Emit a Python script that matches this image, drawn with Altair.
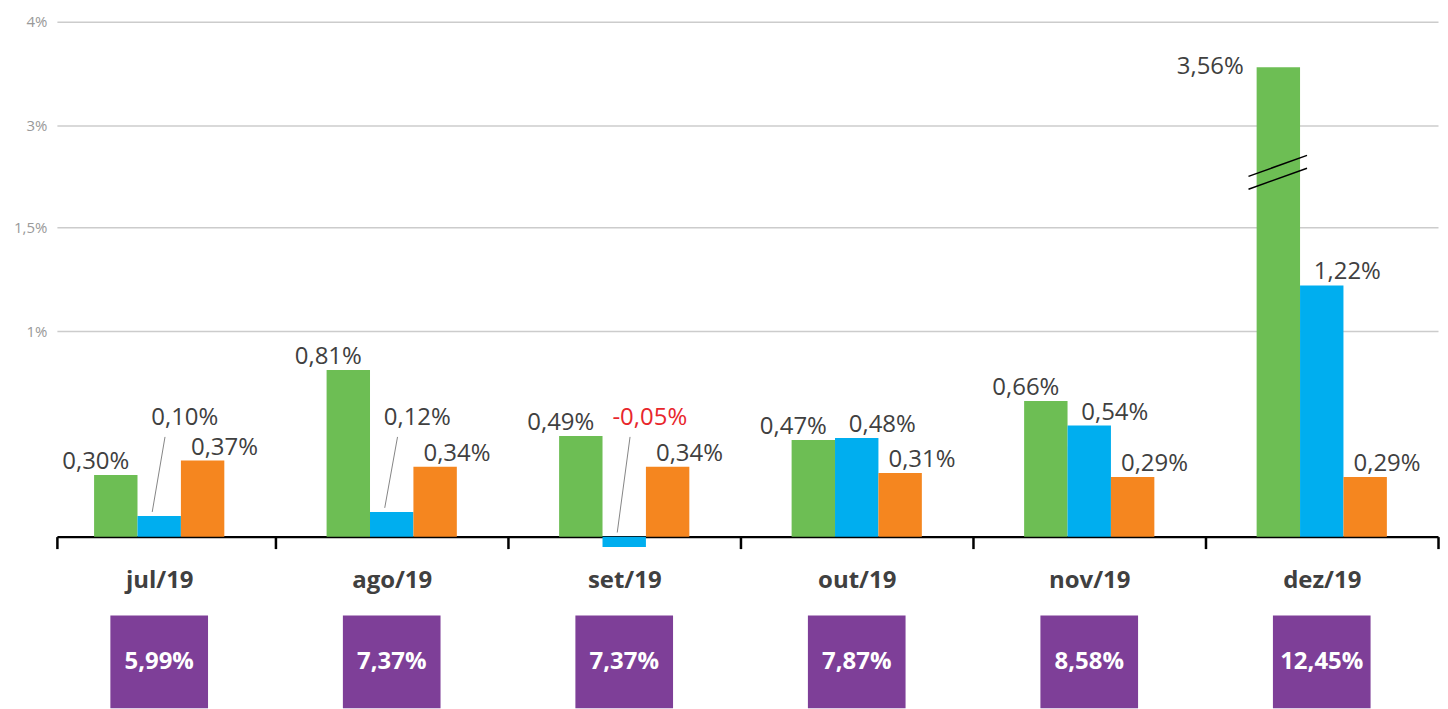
import altair as alt
import pandas as pd

months = ["jul/19", "ago/19", "set/19", "out/19", "nov/19", "dez/19"]
series_names = ["Série 1", "Série 2", "Série 3"]
green_vals = [0.30, 0.81, 0.49, 0.47, 0.66, 3.56]
blue_vals = [0.10, 0.12, -0.05, 0.48, 0.54, 1.22]
orange_vals = [0.37, 0.34, 0.34, 0.31, 0.29, 0.29]
totals = [5.99, 7.37, 7.37, 7.87, 8.58, 12.45]
y_ticks = [1, 1.5, 3, 4]
series_colors = ["#6dbe54", "#00aeef", "#f5861f"]


def fmt(v):
    return f"{v:.2f}".replace(".", ",") + "%"


rows = []
for si, vals in enumerate([green_vals, blue_vals, orange_vals]):
    for mi, v in enumerate(vals):
        rows.append({"mi": mi, "month": months[mi], "series": series_names[si],
                     "si": si, "value": v, "label": fmt(v)})
df = pd.DataFrame(rows)
tot_df = pd.DataFrame({"mi": list(range(len(months))), "month": months,
                       "total": totals, "label": [fmt(t) for t in totals]})

BW = 0.1867
XS = alt.Scale(domain=[-0.44, 5.5], nice=False, zero=False)
YS = alt.Scale(domain=[0, 1, 1.5, 3, 4], range=[516, 310, 206, 104, 0],
               nice=False, zero=False)

month_js = "[" + ",".join(f"'{m}'" for m in months) + "]"
x_vals = [-0.44] + [v / 2 for v in range(0, 12)]
X_AXIS = alt.Axis(
    values=x_vals,
    labelExpr=f"datum.value % 1 === 0 ? {month_js}[datum.value] : ''",
    tickOpacity={"condition": {"test": "datum.value % 1 === 0", "value": 0}, "value": 1},
    grid=False, title=None, domainColor="#000000", domainWidth=2.5,
    tickColor="#000000", tickWidth=2.5, tickSize=12,
    labelFontSize=24, labelFontWeight="bold", labelColor="#404040",
    labelPadding=20, labelOverlap=False, labelFlush=False,
)
Y_AXIS = alt.Axis(
    values=y_ticks, labelExpr="replace(toString(datum.value), '.', ',') + '%'",
    domain=False, ticks=False, grid=True, gridColor="#cccccc", gridWidth=1.5,
    labelColor="#999999", labelFontSize=15, labelPadding=10, title=None,
)

base = alt.Chart(df).transform_calculate(
    xc=f"datum.mi + (datum.si - 1) * {BW}",
    x0=f"datum.xc - {BW / 2}",
    x1=f"datum.xc + {BW / 2}",
    zero="0",
    small="datum.si == 1 && abs(datum.value) < 0.2",
    lx="datum.xc + (datum.si == 0 ? -0.086 : (datum.si == 1 ? 0.11 : 0.094))",
    ly="datum.small ? 0.515 : datum.value",
)

bars = base.mark_rect().encode(
    x=alt.X("x0:Q", scale=XS, axis=X_AXIS),
    x2="x1:Q",
    y=alt.Y("value:Q", scale=YS, axis=Y_AXIS),
    y2="zero:Q",
    color=alt.Color("series:N", scale=alt.Scale(domain=series_names, range=series_colors), legend=None),
)

leaders = base.transform_filter("datum.small").transform_calculate(
    lx0="datum.xc - 0.03", lx1="datum.xc + 0.025",
    ly0="max(datum.value, 0) + 0.02", ly1="0.485",
).mark_rule(color="#666666", strokeWidth=0.8).encode(
    x=alt.X("lx0:Q", scale=XS, axis=X_AXIS), x2="lx1:Q",
    y=alt.Y("ly0:Q", scale=YS, axis=Y_AXIS), y2="ly1:Q",
)

labels = base.transform_filter("datum.value <= 3").mark_text(
    fontSize=24, baseline="alphabetic", dy=-6, align="center"
).encode(
    x=alt.X("lx:Q", scale=XS, axis=X_AXIS),
    y=alt.Y("ly:Q", scale=YS, axis=Y_AXIS),
    text="label:N",
    color=alt.condition("datum.value < 0", alt.value("#e8262c"), alt.value("#404040")),
)

big_label = base.transform_filter("datum.value > 3").transform_calculate(
    bx="datum.x0 - 0.055"
).mark_text(fontSize=24, baseline="middle", align="right", dy=0, color="#404040").encode(
    x=alt.X("bx:Q", scale=XS, axis=X_AXIS),
    y=alt.Y("value:Q", scale=YS, axis=Y_AXIS),
    text="label:N",
)

breaks = []
for lo, hi in [(2.06, 2.37), (2.25, 2.56)]:
    breaks.append(
        base.transform_filter("datum.value > 3").transform_calculate(
            bx0="datum.x0 - 0.035", bx1="datum.x1 + 0.03",
            by0=str(lo), by1=str(hi),
        ).mark_rule(color="#000000", strokeWidth=1.5).encode(
            x=alt.X("bx0:Q", scale=XS, axis=X_AXIS), x2="bx1:Q",
            y=alt.Y("by0:Q", scale=YS, axis=Y_AXIS), y2="by1:Q",
        )
    )

top = alt.layer(bars, leaders, labels, big_label, *breaks).properties(width=1384, height=516)

BH = 93
boxes_base = alt.Chart(tot_df).transform_calculate(
    b0="datum.mi - 0.21", b1="datum.mi + 0.21"
)
boxes = boxes_base.mark_rect(color="#7e3f98").encode(
    x=alt.X("b0:Q", scale=XS, axis=None), x2="b1:Q",
    y=alt.value(0), y2=alt.value(BH),
)
box_text = boxes_base.mark_text(color="#ffffff", fontSize=24, fontWeight="bold", baseline="middle").encode(
    x=alt.X("mi:Q", scale=XS, axis=None),
    y=alt.value(BH / 2),
    text="label:N",
)
bottom = alt.layer(boxes, box_text).properties(width=1384, height=BH)

chart = alt.vconcat(top, bottom, spacing=23).properties(
    padding={"left": 5, "top": 6, "right": 0, "bottom": 0}
).configure(font="Open Sans").configure_view(stroke=None)

chart.save("out.html", embed_options={"renderer": "svg", "actions": False})
